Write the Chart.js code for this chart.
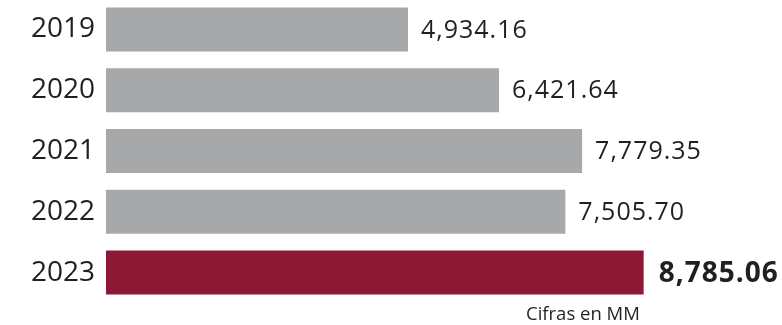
<!DOCTYPE html>
<html>
<head>
<meta charset="utf-8">
<script src="https://cdn.jsdelivr.net/npm/chart.js@4/dist/chart.umd.min.js"></script>
<style>
  html, body { margin: 0; padding: 0; background: #ffffff; }
  #wrap { position: absolute; left: 0; top: -1px; width: 782px; height: 304px; }
  #note {
    position: absolute; left: 526px; top: 300px;
    font-family: "Open Sans", "Noto Sans", sans-serif; font-size: 18.5px;
    color: #231f20; white-space: nowrap;
  }
</style>
</head>
<body>
<div id="wrap"><canvas id="c"></canvas></div>
<div id="note">Cifras en MM</div>
<script>
// Annual amounts, millions
const years = ['2019', '2020', '2021', '2022', '2023'];
const amounts = [4934.16, 6421.64, 7779.35, 7505.70, 8785.06];
const amountLabels = ['4,934.16', '6,421.64', '7,779.35', '7,505.70', '8,785.06'];

const GRAY = '#a7a8aa';
const WINE = '#8c1836';
const INK = '#231f20';
const FONT = '"Open Sans", "Noto Sans", sans-serif';

const highlightIndex = years.length - 1;

// Writes each amount just past the end of its bar; the latest year in bold
const valueLabels = {
  id: 'valueLabels',
  afterDatasetsDraw(chart) {
    const ctx = chart.ctx;
    const meta = chart.getDatasetMeta(0);
    ctx.save();
    ctx.fillStyle = INK;
    ctx.textAlign = 'left';
    ctx.textBaseline = 'middle';
    if ('letterSpacing' in ctx) ctx.letterSpacing = '1px';
    meta.data.forEach((bar, i) => {
      const last = i === highlightIndex;
      ctx.font = (last ? 'bold 28px ' : '25px ') + FONT;
      ctx.fillText(amountLabels[i], bar.x + (last ? 15 : 13), bar.y + 1);
    });
    ctx.restore();
  }
};

new Chart(document.getElementById('c'), {
  type: 'bar',
  data: {
    labels: years,
    datasets: [{
      data: amounts,
      backgroundColor: years.map((_, i) => i === highlightIndex ? WINE : GRAY),
      borderWidth: 0,
      categoryPercentage: 1,
      barPercentage: 0.724
    }]
  },
  options: {
    indexAxis: 'y',
    responsive: true,
    maintainAspectRatio: false,
    animation: false,
    layout: { padding: { left: 0, right: 64, top: 0, bottom: 0 } },
    plugins: {
      legend: { display: false },
      tooltip: { enabled: false },
      title: { display: false }
    },
    scales: {
      x: {
        display: false,
        min: 0,
        max: 10000
      },
      y: {
        grid: { display: false, drawTicks: false },
        border: { display: false },
        ticks: {
          color: INK,
          padding: 11,
          font: { family: FONT, size: 28 }
        },
        afterFit(scale) {
          // fixed gutter for the year labels; bars run edge to edge vertically
          scale.width = 106;
          scale.paddingTop = 0;
          scale.paddingBottom = 0;
        }
      }
    }
  },
  plugins: [valueLabels]
});
</script>
</body>
</html>
